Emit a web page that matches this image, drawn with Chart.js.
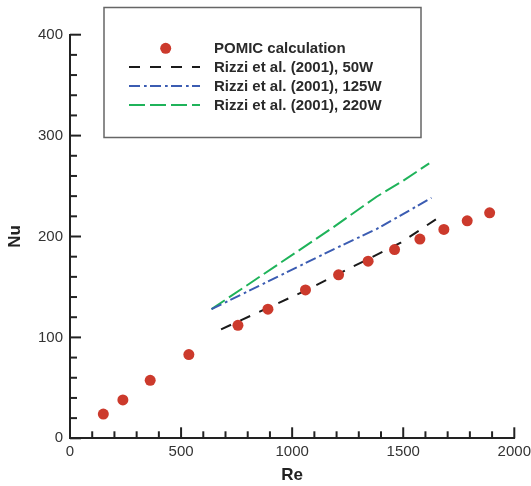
<!DOCTYPE html>
<html>
<head>
<meta charset="utf-8">
<script src="https://cdn.jsdelivr.net/npm/chart.js@4.4.1/dist/chart.umd.min.js"></script>
<style>
html,body{margin:0;padding:0;background:#fff;}
#wrap{position:relative;width:531px;height:486px;}
</style>
</head>
<body>
<div id="wrap"><canvas id="c" width="531" height="486"></canvas></div>
<script>
// ---- Data ----
const pomicRe = [150, 238, 361, 535, 756, 891, 1060, 1209, 1342, 1461, 1575, 1683, 1788, 1889];
const pomicNu = [24, 38, 57.5, 83, 112, 128, 147, 162, 175.5, 187, 197.5, 207, 215.5, 223.5];

const rizzi50Re = [680, 1073, 1193, 1489, 1647];
const rizzi50Nu = [108, 147.7, 161.2, 193.9, 217];

const rizzi125Re = [637, 1170, 1380, 1485, 1627];
const rizzi125Nu = [128, 185.6, 207.4, 220.4, 238.4];

const rizzi220Re = [637, 1185, 1380, 1500, 1617];
const rizzi220Nu = [128, 209.1, 239.4, 255.3, 272.5];

const xTicks = [0, 500, 1000, 1500, 2000];
const yTicks = [0, 100, 200, 300, 400];

const labels = ['POMIC calculation', 'Rizzi et al. (2001), 50W', 'Rizzi et al. (2001), 125W', 'Rizzi et al. (2001), 220W'];

const pts = (xs, ys) => xs.map((x, i) => ({x: x, y: ys[i]}));

const RED = '#cc3a2c', BLACK = '#1a1a1a', BLUE = '#3b5cb2', GREEN = '#1fb35a';
const FONT = '"Liberation Sans", Arial, Helvetica, sans-serif';

// inward ticks (major + minor) drawn with the chart's own scales
const innerTicks = {
  id: 'innerTicks',
  afterDraw(chart) {
    const ctx = chart.ctx, xs = chart.scales.x, ys = chart.scales.y;
    const left = xs.left, bottom = ys.bottom;
    ctx.save();
    ctx.strokeStyle = '#222';
    ctx.lineWidth = 2;
    for (let v = 0; v <= 2000; v += 100) {
      const px = xs.getPixelForValue(v);
      const len = xTicks.includes(v) ? 11 : 7;
      ctx.beginPath(); ctx.moveTo(px, bottom); ctx.lineTo(px, bottom - len); ctx.stroke();
    }
    for (let v = 0; v <= 400; v += 20) {
      const py = ys.getPixelForValue(v);
      const len = yTicks.includes(v) ? 11 : 7;
      ctx.beginPath(); ctx.moveTo(left, py); ctx.lineTo(left + len, py); ctx.stroke();
    }
    ctx.restore();
  }
};

// boxed legend inside the plot
const boxLegend = {
  id: 'boxLegend',
  afterDraw(chart) {
    const ctx = chart.ctx;
    const bx = 104, by = 7.5, bw = 317, bh = 130;
    ctx.save();
    ctx.fillStyle = '#fff';
    ctx.fillRect(bx, by, bw, bh);
    ctx.strokeStyle = '#666';
    ctx.lineWidth = 1.5;
    ctx.strokeRect(bx, by, bw, bh);
    const rows = [48.3, 67, 86, 105];
    const sx0 = 129, sx1 = 200, tx = 214;
    chart.data.datasets.forEach((ds, i) => {
      const y = rows[i];
      if (i === 0) {
        ctx.fillStyle = ds.backgroundColor;
        ctx.beginPath(); ctx.arc(165.7, y, 5.5, 0, Math.PI * 2); ctx.fill();
      } else {
        ctx.strokeStyle = ds.borderColor;
        ctx.lineWidth = 2;
        ctx.setLineDash(ds.borderDash);
        ctx.beginPath(); ctx.moveTo(sx0, y); ctx.lineTo(sx1, y); ctx.stroke();
        ctx.setLineDash([]);
      }
      ctx.fillStyle = '#2a2a2a';
      ctx.font = 'bold 15px ' + FONT;
      ctx.textBaseline = 'middle';
      ctx.textAlign = 'left';
      ctx.fillText(ds.label, tx, y + 0.5);
    });
    ctx.restore();
  }
};

new Chart(document.getElementById('c'), {
  type: 'scatter',
  data: {
    datasets: [
      { label: labels[0], data: pts(pomicRe, pomicNu), backgroundColor: RED, borderColor: RED,
        pointRadius: 5.5, pointBorderWidth: 0, showLine: false },
      { label: labels[1], data: pts(rizzi50Re, rizzi50Nu), borderColor: BLACK, backgroundColor: BLACK,
        borderWidth: 2, borderDash: [11, 10], showLine: true, pointRadius: 0, tension: 0 },
      { label: labels[2], data: pts(rizzi125Re, rizzi125Nu), borderColor: BLUE, backgroundColor: BLUE,
        borderWidth: 2, borderDash: [11, 4, 2.7, 3.3], showLine: true, pointRadius: 0, tension: 0 },
      { label: labels[3], data: pts(rizzi220Re, rizzi220Nu), borderColor: GREEN, backgroundColor: GREEN,
        borderWidth: 2, borderDash: [16, 5], showLine: true, pointRadius: 0, tension: 0 }
    ]
  },
  options: {
    responsive: false,
    animation: false,
    devicePixelRatio: 1,
    layout: { padding: { top: 34.7, right: 16.7, left: 0, bottom: 0 } },
    plugins: { legend: { display: false }, tooltip: { enabled: false } },
    scales: {
      x: {
        type: 'linear', min: 0, max: 2000,
        afterBuildTicks(s) { s.ticks = xTicks.map(v => ({value: v})); },
        ticks: { font: { family: FONT, size: 15 }, color: '#333', padding: 5, maxRotation: 0,
                 callback: v => String(v) },
        grid: { display: false, drawTicks: false },
        border: { display: true, color: '#222', width: 2 },
        title: { display: true, text: 'Re', color: '#222',
                 font: { family: FONT, size: 17, weight: 'bold', lineHeight: 1 },
                 padding: { top: 0, bottom: 2.5 } },
        afterFit(s) { s.height = 47.7; s.paddingLeft = 0; s.paddingRight = 0; }
      },
      y: {
        type: 'linear', min: 0, max: 400,
        afterBuildTicks(s) { s.ticks = yTicks.map(v => ({value: v})); },
        ticks: { font: { family: FONT, size: 15 }, color: '#333', padding: 7,
                 callback: v => String(v) },
        grid: { display: false, drawTicks: false },
        border: { display: true, color: '#222', width: 2 },
        title: { display: true, text: 'Nu', color: '#222',
                 font: { family: FONT, size: 17, weight: 'bold', lineHeight: 1 },
                 padding: { top: 6.8, bottom: 0 } },
        afterFit(s) { s.width = 70; s.paddingTop = 0; s.paddingBottom = 0; }
      }
    }
  },
  plugins: [innerTicks, boxLegend]
});
</script>
</body>
</html>
